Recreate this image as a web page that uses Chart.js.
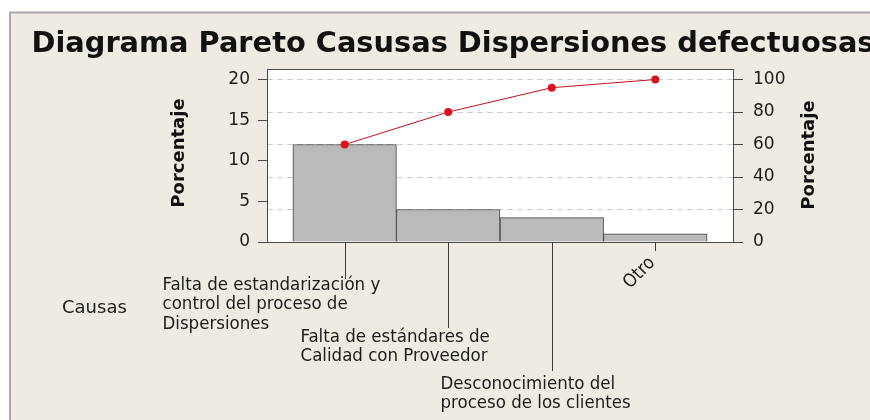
<!DOCTYPE html>
<html>
<head>
<meta charset="utf-8">
<script src="https://cdn.jsdelivr.net/npm/chart.js@4/dist/chart.umd.min.js"></script>
<style>
  html, body { margin: 0; padding: 0; background: #fff; }
  #wrap { width: 870px; height: 420px; position: relative; }
</style>
</head>
<body>
<div id="wrap"><canvas id="pareto" width="870" height="420"></canvas></div>
<script>
// Datos del diagrama
const causas = [
  ['Falta de estandarización y', 'control del proceso de', 'Dispersiones'],
  ['Falta de estándares de', 'Calidad con Proveedor'],
  ['Desconocimiento del', 'proceso de los clientes'],
  ['Otro']
];
const conteo = [12, 4, 3, 1];
const acumulado = [60, 80, 95, 100];
const ticksIzq = [0, 5, 10, 15, 20];
const ticksDer = [0, 20, 40, 60, 80, 100];

const titulo = 'Diagrama Pareto Casusas Dispersiones defectuosas';
const tituloEje = 'Porcentaje';
const tituloCausas = 'Causas';

// Posición de las etiquetas colgantes (largo de la línea, desplazamiento del texto)
const colgantes = [
  { drop: 37, dx: -183, dy: 43 },
  { drop: 86, dx: -148, dy: 95 },
  { drop: 129, dx: -112, dy: 142 },
  { drop: 9, dx: -16, dy: 31, rotado: true }
];

const BEIGE = '#efebe3';
const TEXTO = '#1c1c1c';

const fondo = {
  id: 'fondo',
  beforeDraw(chart) {
    const { ctx, chartArea: a } = chart;
    ctx.save();
    ctx.fillStyle = '#ffffff';
    ctx.fillRect(0, 0, chart.width, chart.height);
    ctx.fillStyle = BEIGE;
    ctx.fillRect(10, 12.5, chart.width - 10, chart.height - 12.5);
    ctx.strokeStyle = '#a9a9a9';
    ctx.lineWidth = 2;
    ctx.beginPath();
    ctx.moveTo(10, chart.height);
    ctx.lineTo(10, 12.5);
    ctx.lineTo(chart.width, 12.5);
    ctx.stroke();
    ctx.fillStyle = '#ffffff';
    ctx.fillRect(a.left, a.top, a.right - a.left, a.bottom - a.top);
    ctx.restore();
  }
};

const textos = {
  id: 'textos',
  afterDraw(chart) {
    const { ctx, chartArea: a } = chart;
    const x = chart.scales.x;
    ctx.save();

    // marco del área de trazado
    ctx.strokeStyle = '#4a4a4a';
    ctx.lineWidth = 1;
    ctx.strokeRect(Math.round(a.left) + 0.5, Math.round(a.top) + 0.5,
      Math.round(a.right - a.left), Math.round(a.bottom - a.top));

    // título
    ctx.fillStyle = '#111';
    ctx.font = 'bold 27.5px "DejaVu Sans"';
    ctx.textBaseline = 'alphabetic';
    ctx.textAlign = 'left';
    const w = ctx.measureText(titulo).width;
    ctx.save();
    ctx.translate(31.5, 52);
    ctx.scale(843 / w, 1);
    ctx.fillText(titulo, 0, 0);
    ctx.restore();

    // títulos de los ejes
    ctx.font = 'bold 18px "DejaVu Sans"';
    ctx.textAlign = 'center';
    ctx.textBaseline = 'middle';
    [[179, 153], [809, 155]].forEach(([tx, ty]) => {
      ctx.save();
      ctx.translate(tx, ty);
      ctx.rotate(-Math.PI / 2);
      ctx.fillText(tituloEje, 0, 0);
      ctx.restore();
    });

    // Causas
    ctx.fillStyle = TEXTO;
    ctx.font = '18px "DejaVu Sans"';
    ctx.textAlign = 'left';
    ctx.fillText(tituloCausas, 62, 308);

    // etiquetas de categoría con líneas guía
    ctx.font = '18.5px "DejaVu Sans Condensed"';
    causas.forEach((lineas, i) => {
      const c = colgantes[i];
      const px = Math.round(x.getPixelForValue(i)) + 0.5;
      ctx.strokeStyle = '#3c3c3c';
      ctx.lineWidth = 1;
      ctx.beginPath();
      ctx.moveTo(px, a.bottom);
      ctx.lineTo(px, a.bottom + c.drop);
      ctx.stroke();
      if (c.rotado) {
        ctx.save();
        ctx.translate(px + c.dx, a.bottom + c.dy);
        ctx.rotate(-Math.PI / 4);
        ctx.textAlign = 'center';
        ctx.fillText(lineas[0], 0, 0);
        ctx.restore();
      } else {
        ctx.textAlign = 'left';
        lineas.forEach((t, k) => {
          ctx.fillText(t, px + c.dx, a.bottom + c.dy + k * 19.5);
        });
      }
    });
    ctx.restore();
  }
};

const ticksFont = { family: '"DejaVu Sans"', size: 17 };

new Chart(document.getElementById('pareto'), {
  type: 'bar',
  data: {
    datasets: [
      {
        type: 'line',
        label: 'Acumulado',
        data: acumulado.map((v, i) => ({ x: i, y: v })),
        yAxisID: 'y1',
        borderColor: '#c0121c',
        borderWidth: 1,
        pointRadius: 4,
        pointBackgroundColor: '#d9141e',
        pointBorderWidth: 0,
        order: 0
      },
      {
        label: 'Conteo',
        data: conteo.map((v, i) => ({ x: i, y: v })),
        yAxisID: 'y',
        backgroundColor: '#bababa',
        borderColor: '#444444',
        borderWidth: 1,
        barPercentage: 1,
        categoryPercentage: 1,
        order: 1
      }
    ]
  },
  options: {
    responsive: false,
    animation: false,
    layout: { padding: { left: 160, right: 37, top: 69, bottom: 178 } },
    plugins: { legend: { display: false }, tooltip: { enabled: false } },
    scales: {
      x: {
        type: 'linear',
        min: -0.75,
        max: 3.75,
        offset: false,
        display: false,
        afterBuildTicks(s) { s.ticks = causas.map((c, i) => ({ value: i })); }
      },
      y: {
        position: 'left',
        min: 0,
        max: 21.3,
        afterFit(s) { s.width = 107; },
        afterBuildTicks(s) { s.ticks = ticksIzq.map(v => ({ value: v })); },
        ticks: { color: TEXTO, font: ticksFont, padding: 8 },
        grid: { drawOnChartArea: false, tickLength: 9, tickColor: '#4a4a4a' },
        border: { display: false }
      },
      y1: {
        position: 'right',
        min: 0,
        max: 106.5,
        afterFit(s) { s.width = 100; },
        afterBuildTicks(s) { s.ticks = ticksDer.map(v => ({ value: v })); },
        ticks: { color: TEXTO, font: ticksFont, padding: 10 },
        grid: { color: '#cdcdcd', lineWidth: 1, tickLength: 10, tickColor: '#4a4a4a' },
        border: { display: false, dash: [6, 4] }
      }
    }
  },
  plugins: [fondo, textos]
});
</script>
</body>
</html>
